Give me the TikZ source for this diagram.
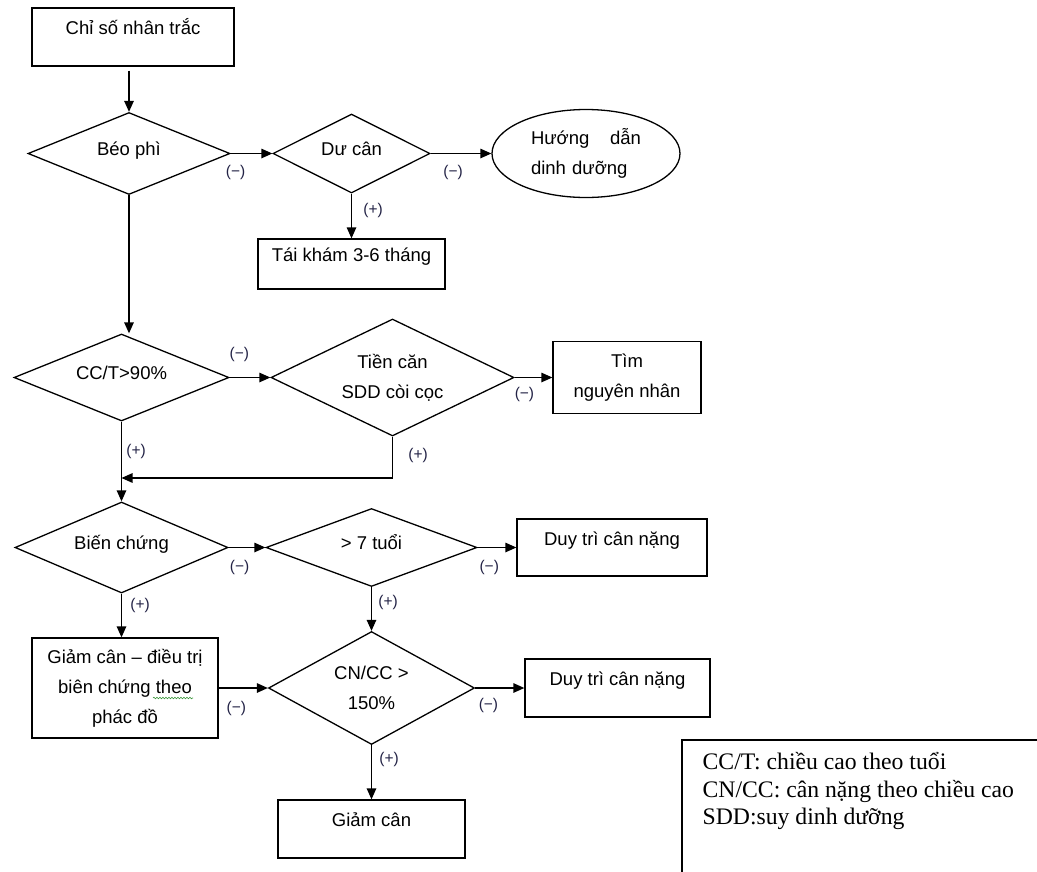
\documentclass[tikz,border=0pt]{standalone}
\usepackage{fontspec}
\setmainfont{Liberation Sans}
\newfontfamily\legendfont{Liberation Serif}
\usepackage{tikz}
\usetikzlibrary{shapes.geometric,positioning,arrows.meta,calc,decorations.pathmorphing}
\definecolor{lblcol}{RGB}{35,35,70}
\definecolor{squigcol}{RGB}{60,150,60}
\tikzset{
  box/.style={draw,rectangle,inner sep=0pt,align=center},
  upbox/.style={box,text height=15pt,text depth=20pt},
  cond/.style={draw,diamond,aspect=2.4,inner sep=0pt,align=center},
  upcond/.style={cond,text height=15pt,text depth=12pt},
  oval/.style={draw,ellipse,inner sep=0pt},
  lbl/.style={inner sep=1pt,text=lblcol,font=\fontsize{15.5}{15.5}\selectfont},
}

\begin{document}
\begin{tikzpicture}[x=1pt,y=-1pt,line width=1.3pt,>={Triangle[length=11pt,width=9.5pt]},font=\fontsize{18.5}{30}\selectfont]

\useasboundingbox (0,0) rectangle (1037,871);

\node[upbox,minimum width=202pt,minimum height=58pt] (chiso) at (133,37) {Chỉ số nhân trắc};
\node[upcond,minimum width=202pt,minimum height=82pt] (beo) at (129,153.5) {Béo phì};
\node[upcond,minimum width=157pt,minimum height=79pt] (ducan) at (351.5,153.5) {Dư cân};
\node[oval,minimum width=188pt,minimum height=88pt,text width=110pt,align=left] (hd) at (586,153.5) {Hướng\hfill dẫn\\dinh dưỡng};
\node[upbox,minimum width=187pt,minimum height=50pt] (taikham) at (351.5,264) {Tái khám 3-6 tháng};

\node[upcond,minimum width=215pt,minimum height=87pt] (cct) at (121.5,377.5) {CC/T>90\%};
\node[cond,minimum width=243pt,minimum height=117pt] (tiencan) at (392.5,377.5) {Tiền căn\\SDD còi cọc};
\node[box,minimum width=148pt,minimum height=72pt] (tim) at (627,377.5) {Tìm\\nguyên nhân};
\coordinate (join) at (121.5,478);

\node[upcond,minimum width=213pt,minimum height=91pt] (bien) at (121.5,547.5) {Biến chứng};
\node[upcond,minimum width=211pt,minimum height=78pt] (tuoi) at (371.5,547.5) {> 7 tuổi};
\node[upbox,minimum width=190pt,minimum height=57pt] (duytri1) at (612,547.5) {Duy trì cân nặng};
\node[box,minimum width=186pt,minimum height=100pt] (giamdt) at (125,688) {Giảm cân – điều trị\\biên chứng theo\\phác đồ};
\node[cond,minimum width=206pt,minimum height=113pt] (cncc) at (371.5,688) {CN/CC >\\150\%};
\node[upbox,minimum width=185pt,minimum height=58pt] (duytri2) at (617.5,688) {Duy trì cân nặng};
\node[upbox,minimum width=187pt,minimum height=58pt] (giamcan) at (371.5,829) {Giảm cân};

\draw[->] ([yshift=-4pt]beo.north |- chiso.south) -- (beo.north);
\draw[->] (beo.east) -- node[lbl,pos=0.12,below=10pt] (m1) {(−)} (ducan.west);
\draw[->] (ducan.east) -- node[lbl,pos=0.37,below=10pt] (m2) {(−)} (hd.west);
\draw[->] (ducan.south) -- node[lbl,pos=0.37,right=10.3pt] (p1) {(+)} (taikham.north);
\draw[->] (beo.south) -- (beo.south |- cct.north);
\draw[->] (cct.east) -- node[lbl,pos=0.24,above=14pt] (m3) {(−)} (tiencan.west);
\draw[->] (tiencan.east) -- node[lbl,pos=0.26,below=8pt] (m4) {(−)} (tim.west);
\draw[->] (cct.south) -- node[lbl,pos=0.38,right=3.3pt] (p2) {(+)} (bien.north);
\draw[->] (tiencan.south) |- node[lbl,pos=0.225,right=14.3pt] (p3) {(+)} (join);
\draw[->] (bien.east) -- node[lbl,pos=0.3,below=11.5pt] (m5) {(−)} (tuoi.west);
\draw[->] (tuoi.east) -- node[lbl,pos=0.3,below=11.5pt] (m6) {(−)} (duytri1.west);
\draw[->] (bien.south) -- node[lbl,pos=0.27,right=7.3pt] (p4) {(+)} (bien.south |- giamdt.north);
\draw[->] (tuoi.south) -- node[lbl,pos=0.34,right=5.3pt] (p5) {(+)} (cncc.north);
\draw[->] (giamdt.east) -- node[lbl,pos=0.36,below=11.5pt] (m7) {(−)} (cncc.west);
\draw[->] (cncc.east) -- node[lbl,pos=0.27,below=8.5pt] (m8) {(−)} (duytri2.west);
\draw[->] (cncc.south) -- node[lbl,pos=0.26,right=6.3pt] (p6) {(+)} (giamcan.north);

\draw[squigcol,line width=0.6pt,decorate,decoration={snake,amplitude=0.8pt,segment length=3pt}]
  ($(giamdt.center)+(28,10)$) -- ($(giamdt.center)+(68,10)$);

\node[anchor=north west,inner sep=0pt,align=left,font=\legendfont\fontsize{23.7}{27.5}\selectfont] (legend) at (702,752)
  {CC/T: chiều cao theo tuổi\\CN/CC: cân nặng theo chiều cao\\SDD:suy dinh dưỡng};
\draw (682,880) |- (1045,740);

\end{tikzpicture}
\end{document}
